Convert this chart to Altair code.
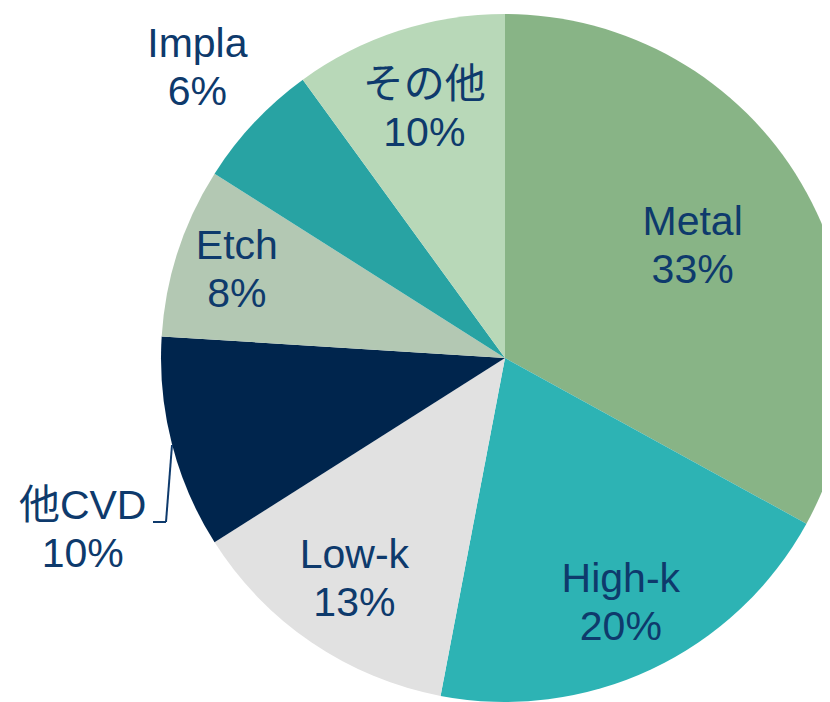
import altair as alt
import pandas as pd
import math

categories = ["Metal", "High-k", "Low-k", "他CVD", "Etch", "Impla", "その他"]
shares = [33, 20, 13, 10, 8, 6, 10]
colors = ["#88B486", "#2DB3B4", "#E1E1E1", "#00254D", "#B3C8B3", "#28A3A3", "#B8D8B8"]

# label distance from the pie centre (layout only)
label_radius = [218, 272, 268, 436, 282, 422, 261]

TEXT = "#0E3A6C"
FONT = "Liberation Sans, Arial, Noto Sans CJK JP"
CX, CY, R = 497, 350, 344

df = pd.DataFrame({
    "cat": categories,
    "value": shares,
    "idx": list(range(len(categories))),
    "label": [f"{c}\n{v}%" for c, v in zip(categories, shares)],
    "lr": label_radius,
})

arcs = alt.Chart(df).mark_arc(outerRadius=R, stroke=None).encode(
    theta=alt.Theta("value:Q", stack=True),
    order=alt.Order("idx:Q"),
    color=alt.Color("cat:N", scale=alt.Scale(domain=categories, range=colors), legend=None),
    x=alt.value(CX),
    y=alt.value(CY),
)

text_base = alt.Chart(df).transform_joinaggregate(
    total="sum(value)"
).transform_window(
    cum="sum(value)", sort=[alt.SortField("idx")], frame=[None, 0]
).transform_calculate(
    mid="(datum.cum - datum.value / 2) / datum.total"
)

text_common = dict(lineBreak="\n", lineHeight=48, fontSize=41, font=FONT,
                   color=TEXT, align="center", baseline="middle")

enc = dict(
    theta=alt.Theta("mid:Q", scale=alt.Scale(domain=[0, 1], range=[0, 2 * math.pi])),
    radius=alt.Radius("lr:Q", scale=None),
    text="label:N",
    x=alt.value(CX),
    y=alt.value(CY),
)

labels = text_base.mark_text(dy=-24, **text_common).encode(**enc).transform_filter(
    alt.datum.cat != "他CVD"
)
labels_out = text_base.mark_text(dy=41, **text_common).encode(**enc).transform_filter(
    alt.datum.cat == "他CVD"
)

lead1 = alt.Chart(df).mark_rule(color=TEXT, strokeWidth=2).encode(
    x=alt.value(164), y=alt.value(437), x2=alt.value(158), y2=alt.value(514)
).transform_filter(alt.datum.cat == "他CVD")
lead2 = alt.Chart(df).mark_rule(color=TEXT, strokeWidth=2).encode(
    x=alt.value(158), y=alt.value(514), x2=alt.value(145), y2=alt.value(514)
).transform_filter(alt.datum.cat == "他CVD")

chart = alt.layer(arcs, labels, labels_out, lead1, lead2).resolve_scale(
    theta="independent"
).properties(
    width=814, height=694, padding=0, autosize="none"
).configure_view(stroke=None)

chart.save("out.html", embed_options={"renderer": "svg", "actions": False})
